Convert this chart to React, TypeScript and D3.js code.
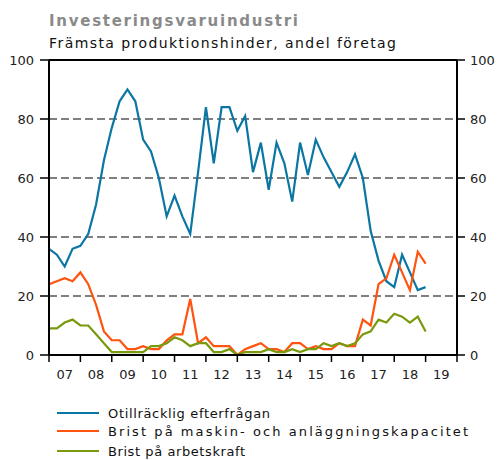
import React from "react";
import * as d3 from "d3";

const startYear = 2007;
const endYear = 2020;
const yTicks = [0, 20, 40, 60, 80, 100];
const yearLabels = ["07", "08", "09", "10", "11", "12", "13", "14", "15", "16", "17", "18", "19"];

// Quarterly values, 2007 Q1 .. 2019 Q1
const otillrackligEfterfragan = [
  36, 34, 30, 36, 37, 41, 51, 66, 77, 86, 90, 86, 73, 69, 60, 47, 54, 47, 41, 62,
  84, 65, 84, 84, 76, 81, 62, 72, 56, 72, 65, 52, 72, 61, 73, 67, 62, 57, 62, 68,
  60, 42, 32, 25, 23, 34, 28, 22, 23,
];
const bristMaskin = [
  24, 25, 26, 25, 28, 24, 17, 8, 5, 5, 2, 2, 3, 2, 2, 5, 7, 7, 19, 4,
  6, 3, 3, 3, 0, 2, 3, 4, 2, 2, 1, 4, 4, 2, 3, 2, 2, 4, 3, 3,
  12, 10, 24, 26, 34, 28, 22, 35, 31,
];
const bristArbetskraft = [
  9, 9, 11, 12, 10, 10, 7, 4, 1, 1, 1, 1, 1, 3, 3, 4, 6, 5, 3, 4,
  4, 1, 1, 2, 0, 1, 1, 1, 2, 1, 1, 2, 1, 2, 2, 4, 3, 4, 3, 4,
  7, 8, 12, 11, 14, 13, 11, 13, 8,
];

const seriesNames = [
  "Otillräcklig efterfrågan",
  "Brist på maskin- och anläggningskapacitet",
  "Brist på arbetskraft",
];
const seriesColors = ["#0b76a3", "#ff5310", "#789a0c"];
const legendWidths = [162, 360, 137];

export default function App() {
  const x = d3.scaleLinear().domain([startYear, endYear]).range([49, 457]);
  const y = d3.scaleLinear().domain([0, 100]).range([355, 60]);
  const line = d3
    .line<number>()
    .x((_, i) => x(startYear + i / 4))
    .y((v) => y(v));
  const series = [otillrackligEfterfragan, bristMaskin, bristArbetskraft];
  const years = d3.range(startYear, endYear + 1);
  const font = "'DejaVu Sans', Verdana, sans-serif";

  return (
    <svg
      width={499}
      height={460}
      style={{ position: "absolute", left: 0, top: 0, background: "#fff" }}
      fontFamily={font}
    >
      <text x={49} y={26} fontSize={15} fontWeight="bold" fill="#8a8a8a" textLength={249} lengthAdjust="spacing">
        Investeringsvaruindustri
      </text>
      <text x={49} y={48} fontSize={14} fill="#111" textLength={347} lengthAdjust="spacing">
        Främsta produktionshinder, andel företag
      </text>

      {yTicks
        .filter((t) => t > 0 && t < 100)
        .map((t) => (
          <line key={"g" + t} x1={x(startYear)} x2={x(endYear)} y1={y(t)} y2={y(t)} stroke="#808080" strokeWidth={2} strokeDasharray="8,4" />
        ))}

      {series.map((s, i) => (
        <path key={"s" + i} d={line(s) || ""} fill="none" stroke={seriesColors[i]} strokeWidth={2.2} />
      ))}

      {/* frame */}
      <line x1={x(startYear)} x2={x(endYear)} y1={y(100)} y2={y(100)} stroke="#000" strokeWidth={2} />
      <line x1={x(startYear)} x2={x(endYear)} y1={y(0)} y2={y(0)} stroke="#000" strokeWidth={2} />
      <line x1={x(startYear)} x2={x(startYear)} y1={y(100)} y2={y(0)} stroke="#000" strokeWidth={2} />
      <line x1={x(endYear)} x2={x(endYear)} y1={y(100)} y2={y(0)} stroke="#000" strokeWidth={2} />

      {yTicks.map((t) => (
        <g key={"yt" + t}>
          <line x1={40} x2={49} y1={y(t)} y2={y(t)} stroke="#000" strokeWidth={1.5} />
          <line x1={457} x2={465} y1={y(t)} y2={y(t)} stroke="#000" strokeWidth={1.5} />
          <text x={34} y={y(t)} dy="0.36em" textAnchor="end" fontSize={13} fill="#222">
            {t}
          </text>
          <text x={470} y={y(t)} dy="0.36em" textAnchor="start" fontSize={13} fill="#222">
            {t}
          </text>
        </g>
      ))}

      {years.map((yr) => (
        <line key={"xt" + yr} x1={x(yr)} x2={x(yr)} y1={y(0)} y2={y(0) + 7} stroke="#000" strokeWidth={1.5} />
      ))}
      {yearLabels.map((lab, i) => (
        <text key={"xl" + lab} x={x(startYear + i + 0.5)} y={379} textAnchor="middle" fontSize={13} fill="#222">
          {lab}
        </text>
      ))}

      {seriesNames.map((name, i) => {
        const ly = [413, 431, 451][i];
        return (
          <g key={"lg" + i}>
            <line x1={57} x2={99} y1={ly} y2={ly} stroke={seriesColors[i]} strokeWidth={2.2} />
            <text x={108} y={ly + 5} fontSize={13} fill="#111" textLength={legendWidths[i]} lengthAdjust="spacing">
              {name}
            </text>
          </g>
        );
      })}
    </svg>
  );
}
